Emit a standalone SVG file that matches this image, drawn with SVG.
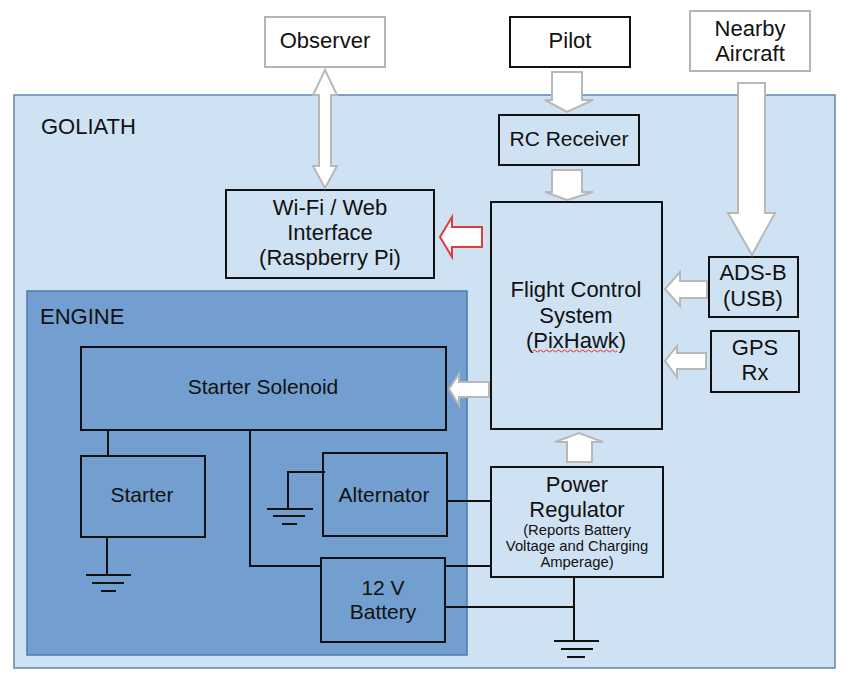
<svg xmlns="http://www.w3.org/2000/svg" width="851" height="676" viewBox="0 0 851 676">
<style>
text{font-family:"Liberation Sans",Arial,sans-serif;fill:#111;font-size:22px}
.c{text-anchor:middle}
.s{font-size:14.8px}
.m{font-size:21px}
.box{fill:none;stroke:#111;stroke-width:2}
.wbox{fill:#fff;stroke:#111;stroke-width:2}
.gbox{fill:#fff;stroke:#b4b4b4;stroke-width:2}
.ln{fill:none;stroke:#111;stroke-width:2}
.ar{fill:#fff;stroke:#b8b8b8;stroke-width:2;stroke-linejoin:miter}
.red{fill:#fff;stroke:#e03a3a;stroke-width:2}
</style>
<rect width="851" height="676" fill="#fff"/>
<g id="goliath">
<rect x="14" y="95" width="821" height="573" fill="#cfe2f3" stroke="#5f86b4" stroke-width="1.5"/>
<text x="41" y="134" font-size="20.5">GOLIATH</text>
</g>
<g id="engine">
<rect x="27" y="291" width="440" height="364" fill="#729fcf" stroke="#4f79b0" stroke-width="1.5"/>
<text x="40" y="324" font-size="20.5">ENGINE</text>
</g>
<g id="observer"><rect class="gbox" x="265" y="17" width="120" height="50"/><text class="c" x="325" y="48">Observer</text></g>
<g id="pilot"><rect class="wbox" x="510" y="17" width="120" height="50"/><text class="c" x="570" y="48">Pilot</text></g>
<g id="nearby"><rect class="gbox" x="690" y="11" width="120" height="60"/><text class="c" x="750" y="36">Nearby</text><text class="c" x="750" y="61">Aircraft</text></g>
<g id="rc"><rect class="box" x="499" y="115" width="140" height="50"/><text class="c m" x="569" y="146">RC Receiver</text></g>
<g id="wifi"><rect class="box" x="226" y="190" width="208" height="88"/><text class="c" x="330" y="215">Wi-Fi / Web</text><text class="c" x="330" y="240">Interface</text><text class="c" x="330" y="265">(Raspberry Pi)</text></g>
<g id="fcs"><rect class="box" x="491" y="202" width="171" height="227"/><text class="c" x="576" y="297">Flight Control</text><text class="c" x="576" y="323">System</text><text class="c" x="576" y="348">(PixHawk)</text>
<path d="M533 351 q1.5 -2 3 0 t3 0 t3 0 t3 0 t3 0 t3 0 t3 0 t3 0 t3 0 t3 0 t3 0 t3 0 t3 0 t3 0 t3 0 t3 0 t3 0 t3 0 t3 0 t3 0 t3 0 t3 0 t3 0 t3 0 t3 0 t3 0 t3 0 t3 0" fill="none" stroke="#e03030" stroke-width="1"/></g>
<g id="adsb"><rect class="box" x="709" y="257" width="89" height="60"/><text class="c" x="753" y="280">ADS-B</text><text class="c" x="753" y="306">(USB)</text></g>
<g id="gps"><rect class="box" x="711" y="331" width="88" height="61"/><text class="c" x="755" y="355">GPS</text><text class="c" x="755" y="380">Rx</text></g>
<g id="power"><rect class="box" x="491" y="467" width="172" height="110"/><text class="c" x="577" y="492">Power</text><text class="c" x="577" y="517">Regulator</text><text class="c s" x="577" y="535">(Reports Battery</text><text class="c s" x="577" y="551">Voltage and Charging</text><text class="c s" x="577" y="567">Amperage)</text></g>
<g id="solenoid"><rect class="box" x="81" y="347" width="365" height="83"/><text class="c m" x="263" y="394">Starter Solenoid</text></g>
<g id="starter"><rect class="box" x="81" y="456" width="124" height="81"/><text class="c m" x="142" y="502">Starter</text></g>
<g id="alternator"><rect class="box" x="323" y="453" width="124" height="83"/><text class="c m" x="384" y="502">Alternator</text></g>
<g id="battery"><rect class="box" x="321" y="558" width="124" height="84"/><text class="c m" x="383" y="595">12 V</text><text class="c m" x="383" y="619">Battery</text></g>
<g id="connectors">
<path class="ln" d="M108 430V456"/>
<path class="ln" d="M107 537V575M86 575H131M92 583H124M101 591H116"/>
<path class="ln" d="M250 430V566H321"/>
<path class="ln" d="M325 472H288V509M267 509H313M273 516H305M282 524H297"/>
<path class="ln" d="M447 501H491"/>
<path class="ln" d="M445 566H491"/>
<path class="ln" d="M445 607H574M574 577V641M554 641H599M561 649H593M567 657H585"/>
<path class="ar" d="M325 70L337 95H331V166H337L325 188L313 166H319V95H313Z"/>
<path class="ar" d="M552 72H582V100H593L567 112L545 100H552Z"/>
<path class="ar" d="M552 170H582V192H593L567 200L545 192H552Z"/>
<path class="ar" d="M738 83H765V213H775L752 255L728 213H738Z"/>
<path class="ar" d="M707 281V298H680V306L665 289L680 272V281Z"/>
<path class="ar" d="M706 353V369H677V377L665 361L677 346V353Z"/>
<path class="ar" d="M489 382V397H459V405L449 389L459 374V382Z"/>
<path class="ar" d="M567 462V442H555L579 433L603 442H592V462Z"/>
<path class="red" d="M482 227V247H452V257L440 237L452 217V227Z"/>
</g>
</svg>
